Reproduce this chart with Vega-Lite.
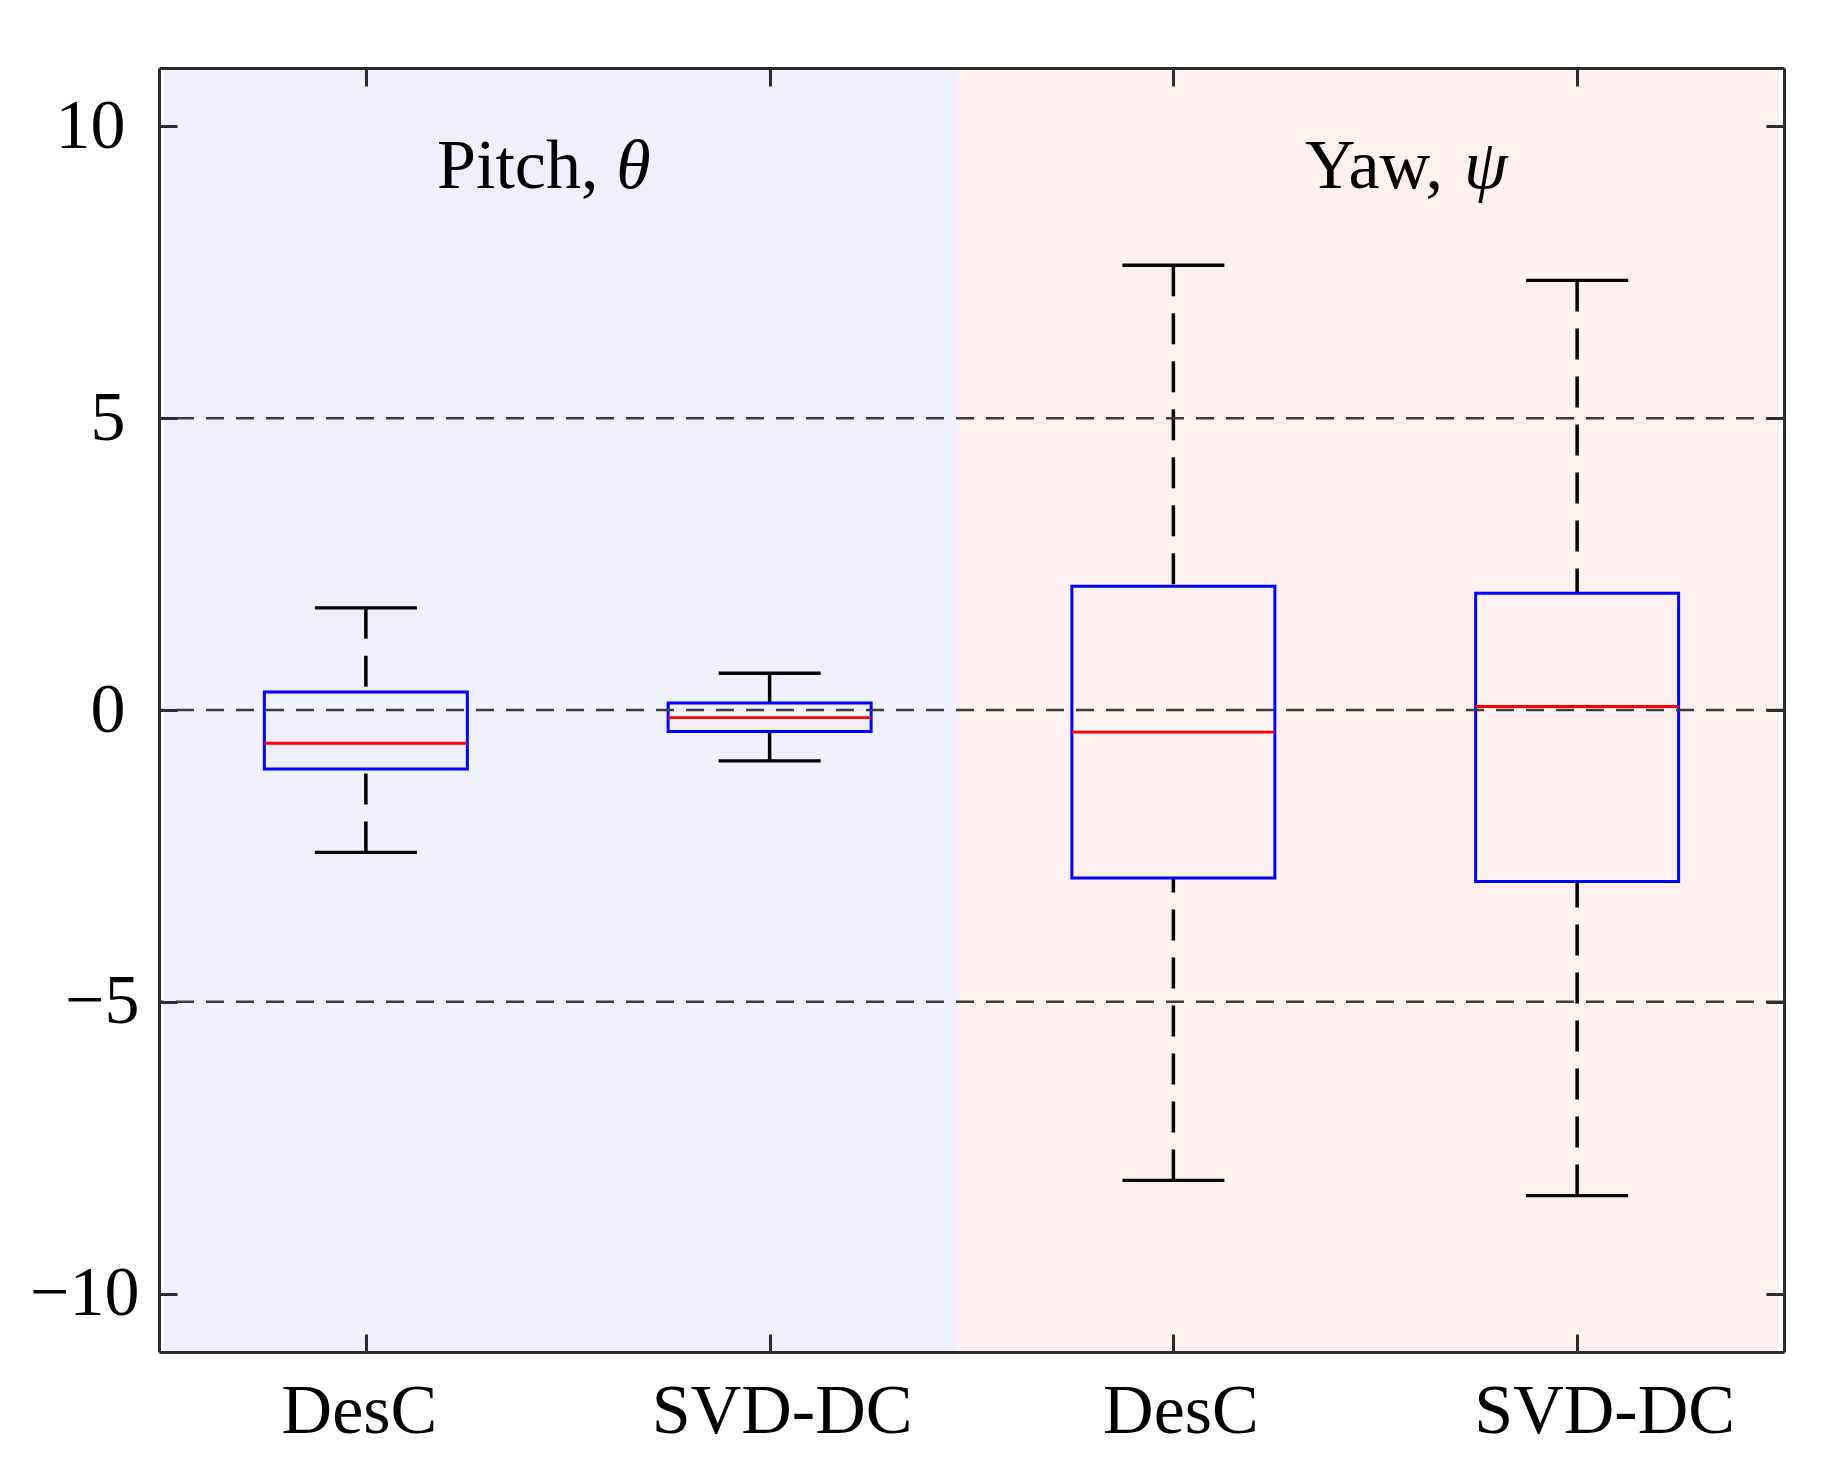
{
  "$schema": "https://vega.github.io/schema/vega-lite/v6.json",
  "width": 1625,
  "height": 1284,
  "autosize": {"type": "none"},
  "padding": {"left": 159, "top": 68, "right": 52, "bottom": 124},
  "background": "white",
  "config": {
    "view": {"stroke": null},
    "font": "Liberation Serif",
    "axis": {
      "grid": false,
      "title": null,
      "zindex": 1,
      "labelFont": "Liberation Serif",
      "labelFontSize": 70,
      "labelColor": "#000000",
      "labelLimit": 0,
      "tickColor": "#2b2b33",
      "tickWidth": 3,
      "tickSize": -18,
      "domainColor": "#2b2b2b",
      "domainWidth": 3
    }
  },
  "datasets": {
    "panels": [
      {"panel": "Pitch", "start": 0.5, "end": 2.466},
      {"panel": "Yaw", "start": 2.466, "end": 4.5}
    ],
    "refs": [{"ref": -5}, {"ref": 0}, {"ref": 5}],
    "boxes": [
      {"angle": "Pitch", "method": "DesC", "pos": 1, "lower": -2.44, "q1": -1.01, "median": -0.57, "q3": 0.31, "upper": 1.75},
      {"angle": "Pitch", "method": "SVD-DC", "pos": 2, "lower": -0.87, "q1": -0.37, "median": -0.13, "q3": 0.12, "upper": 0.63},
      {"angle": "Yaw", "method": "DesC", "pos": 3, "lower": -8.06, "q1": -2.88, "median": -0.38, "q3": 2.12, "upper": 7.62},
      {"angle": "Yaw", "method": "SVD-DC", "pos": 4, "lower": -8.32, "q1": -2.94, "median": 0.06, "q3": 2.0, "upper": 7.36}
    ],
    "titles": [
      {"label": "Pitch,", "x": 1.576, "y": 8.95},
      {"label": "Yaw,", "x": 3.668, "y": 8.95}
    ],
    "symbols": [
      {"label": "θ", "x": 1.62, "y": 8.95},
      {"label": "ψ", "x": 3.72, "y": 8.95}
    ]
  },
  "layer": [
    {
      "data": {"name": "panels"},
      "mark": {"type": "rect"},
      "encoding": {
        "x": {
          "field": "start", "type": "quantitative",
          "scale": {"domain": [0.5, 4.5], "nice": false, "zero": false},
          "axis": {
            "orient": "bottom", "values": [1, 2, 3, 4], "zindex": 2,
            "labelExpr": "datum.value == 1 || datum.value == 3 ? 'DesC' : 'SVD-DC'",
            "ticks": true, "tickSize": -18, "domain": true,
            "labelPadding": 98, "labelBaseline": "alphabetic",
            "labelOffset": {"condition": [
              {"test": "datum.value == 1", "value": -7},
              {"test": "datum.value == 2", "value": 12},
              {"test": "datum.value == 3", "value": 7}
            ], "value": 27}
          }
        },
        "x2": {"field": "end"},
        "color": {
          "field": "panel", "type": "nominal",
          "scale": {"domain": ["Pitch", "Yaw"], "range": ["#f0f0fc", "#fdf0f0"]},
          "legend": null
        }
      }
    },
    {
      "data": {"name": "boxes"},
      "mark": {"type": "rule", "color": "#000000", "strokeWidth": 3.5, "strokeDash": [31, 17]},
      "encoding": {
        "x": {
          "field": "pos", "type": "quantitative",
          "scale": {"domain": [0.5, 4.5], "nice": false, "zero": false},
          "axis": {"orient": "top", "values": [1, 2, 3, 4], "zindex": 2, "labels": false, "ticks": true, "tickSize": -18, "domain": true}
        },
        "y": {
          "field": "upper", "type": "quantitative",
          "scale": {"domain": [-11, 11], "nice": false, "zero": false},
          "axis": {"orient": "right", "values": [-10, -5, 0, 5, 10], "zindex": 2, "labels": false, "ticks": true, "tickSize": -18, "domain": true}
        },
        "y2": {"field": "q3"}
      }
    },
    {
      "data": {"name": "boxes"},
      "mark": {"type": "rule", "color": "#000000", "strokeWidth": 3.5, "strokeDash": [31, 17]},
      "encoding": {
        "x": {"field": "pos", "type": "quantitative", "scale": {"domain": [0.5, 4.5], "nice": false, "zero": false}, "axis": null},
        "y": {"field": "lower", "type": "quantitative", "scale": {"domain": [-11, 11], "nice": false, "zero": false}, "axis": null},
        "y2": {"field": "q1"}
      }
    },
    {
      "data": {"name": "boxes"},
      "mark": {"type": "tick", "orient": "horizontal", "color": "#000000", "opacity": 1, "size": 102, "thickness": 3.3},
      "encoding": {
        "x": {"field": "pos", "type": "quantitative", "scale": {"domain": [0.5, 4.5], "nice": false, "zero": false}, "axis": null},
        "y": {"field": "upper", "type": "quantitative", "scale": {"domain": [-11, 11], "nice": false, "zero": false}, "axis": null}
      }
    },
    {
      "data": {"name": "boxes"},
      "mark": {"type": "tick", "orient": "horizontal", "color": "#000000", "opacity": 1, "size": 102, "thickness": 3.3},
      "encoding": {
        "x": {"field": "pos", "type": "quantitative", "scale": {"domain": [0.5, 4.5], "nice": false, "zero": false}, "axis": null},
        "y": {"field": "lower", "type": "quantitative", "scale": {"domain": [-11, 11], "nice": false, "zero": false}, "axis": null}
      }
    },
    {
      "data": {"name": "boxes"},
      "mark": {"type": "bar", "width": 203, "fill": "transparent", "stroke": "#0000ff", "strokeWidth": 3, "opacity": 1},
      "encoding": {
        "x": {"field": "pos", "type": "quantitative", "scale": {"domain": [0.5, 4.5], "nice": false, "zero": false}, "axis": null},
        "y": {"field": "q1", "type": "quantitative", "scale": {"domain": [-11, 11], "nice": false, "zero": false}, "axis": null},
        "y2": {"field": "q3"}
      }
    },
    {
      "data": {"name": "boxes"},
      "mark": {"type": "tick", "orient": "horizontal", "color": "#ff0000", "opacity": 1, "size": 203, "thickness": 2.8},
      "encoding": {
        "x": {"field": "pos", "type": "quantitative", "scale": {"domain": [0.5, 4.5], "nice": false, "zero": false}, "axis": null},
        "y": {"field": "median", "type": "quantitative", "scale": {"domain": [-11, 11], "nice": false, "zero": false}, "axis": null}
      }
    },
    {
      "data": {"name": "refs"},
      "mark": {"type": "rule", "color": "#3c3c3c", "strokeWidth": 2.5, "strokeDash": [18, 12]},
      "encoding": {
        "y": {
          "field": "ref", "type": "quantitative",
          "scale": {"domain": [-11, 11], "nice": false, "zero": false},
          "axis": {
            "orient": "left", "values": [-10, -5, 0, 5, 10], "format": "d", "zindex": 2,
            "ticks": true, "tickSize": -18, "domain": true,
            "labelPadding": {"condition": {"test": "datum.value < 0", "value": 38}, "value": 52}
          }
        }
      }
    },
    {
      "data": {"name": "titles"},
      "mark": {"type": "text", "align": "right", "baseline": "alphabetic", "font": "Liberation Serif", "fontSize": 70, "color": "#000000"},
      "encoding": {
        "x": {"field": "x", "type": "quantitative", "scale": {"domain": [0.5, 4.5], "nice": false, "zero": false}, "axis": null},
        "y": {"field": "y", "type": "quantitative", "scale": {"domain": [-11, 11], "nice": false, "zero": false}, "axis": null},
        "text": {"field": "label"}
      }
    },
    {
      "data": {"name": "symbols"},
      "mark": {"type": "text", "align": "left", "baseline": "alphabetic", "font": "Liberation Serif", "fontStyle": "italic", "fontSize": 70, "color": "#000000"},
      "encoding": {
        "x": {"field": "x", "type": "quantitative", "scale": {"domain": [0.5, 4.5], "nice": false, "zero": false}, "axis": null},
        "y": {"field": "y", "type": "quantitative", "scale": {"domain": [-11, 11], "nice": false, "zero": false}, "axis": null},
        "text": {"field": "label"}
      }
    }
  ],
  "resolve": {"axis": {"x": "independent", "y": "independent"}}
}
